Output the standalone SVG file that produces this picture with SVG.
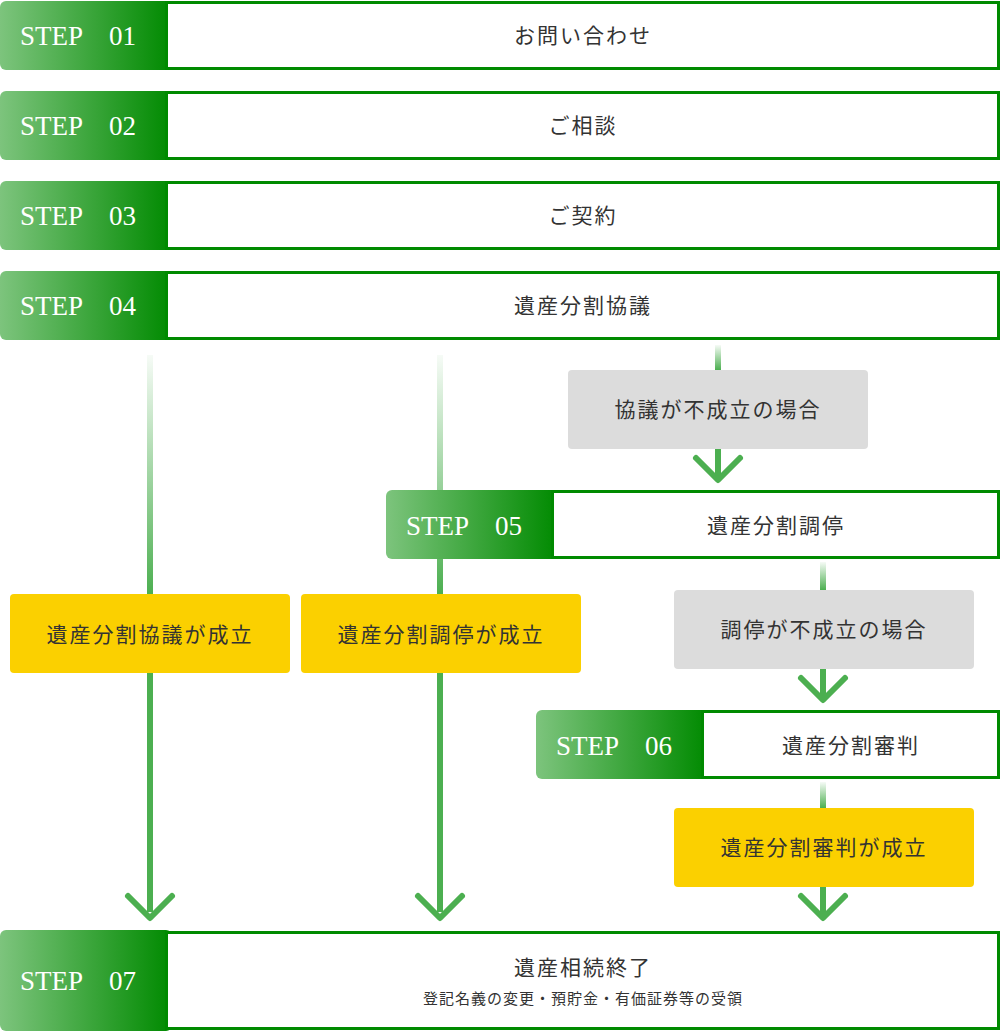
<svg xmlns="http://www.w3.org/2000/svg" width="1000" height="1031" viewBox="0 0 1000 1031">
<defs>
<linearGradient id="lg" x1="0" x2="1" y1="0" y2="0"><stop offset="0" stop-color="#7dc47d"/><stop offset="1" stop-color="#008a00"/></linearGradient>
<linearGradient id="vf" x1="0" x2="0" y1="0" y2="1"><stop offset="0" stop-color="#4caf50" stop-opacity="0.05"/><stop offset="1" stop-color="#4caf50"/></linearGradient>
<style>
.lab{fill:url(#lg)}
.box{fill:#fff;stroke:#008a00;stroke-width:3}
.st{font-family:"Liberation Serif",serif;font-size:27px;fill:#fff}
.t{font-family:"Liberation Serif","Noto Sans CJK JP",serif;font-size:21px;fill:#333;text-anchor:middle;letter-spacing:2px}
.y{fill:#fbd000}
.g{fill:#dcdcdc}
.ln{stroke:#4caf50;stroke-width:6;fill:none}
.fl{fill:url(#vf)}
.ar{stroke:#4caf50;stroke-width:6;fill:none;stroke-linecap:round;stroke-linejoin:round}
</style>
</defs>
<g id="connectors">
<rect class="fl" x="147" y="355" width="6" height="240"/>
<rect class="ln" x="147" y="673" width="0.1" height="0"/>
<line class="ln" x1="150" y1="673" x2="150" y2="912"/>
<polyline class="ar" points="128,896 150,918 172,896"/>
<rect class="fl" x="437" y="355" width="6" height="240"/>
<line class="ln" x1="440" y1="673" x2="440" y2="912"/>
<polyline class="ar" points="418,896 440,918 462,896"/>
<rect class="fl" x="715" y="345" width="6" height="25"/>
<line class="ln" x1="718" y1="449" x2="718" y2="476"/>
<polyline class="ar" points="696,458 718,480 740,458"/>
<rect class="fl" x="820" y="562" width="6" height="28"/>
<line class="ln" x1="823" y1="669" x2="823" y2="696"/>
<polyline class="ar" points="801,678 823,700 845,678"/>
<rect class="fl" x="820" y="782" width="6" height="26"/>
<line class="ln" x1="823" y1="887" x2="823" y2="914"/>
<polyline class="ar" points="801,896 823,918 845,896"/>
</g>
<g id="step01"><rect class="lab" x="0" y="1" width="172" height="69" rx="6"/><rect class="box" x="166.5" y="2.5" width="832" height="66"/><text class="st" x="20" y="45">STEP　01</text><text class="t" x="583" y="43">お問い合わせ</text></g>
<g id="step02"><rect class="lab" x="0" y="91" width="172" height="69" rx="6"/><rect class="box" x="166.5" y="92.5" width="832" height="66"/><text class="st" x="20" y="135">STEP　02</text><text class="t" x="583" y="133">ご相談</text></g>
<g id="step03"><rect class="lab" x="0" y="181" width="172" height="69" rx="6"/><rect class="box" x="166.5" y="182.5" width="832" height="66"/><text class="st" x="20" y="225">STEP　03</text><text class="t" x="583" y="223">ご契約</text></g>
<g id="step04"><rect class="lab" x="0" y="271" width="172" height="69" rx="6"/><rect class="box" x="166.5" y="272.5" width="832" height="66"/><text class="st" x="20" y="315">STEP　04</text><text class="t" x="583" y="313">遺産分割協議</text></g>
<g id="fail1"><rect class="g" x="568" y="370" width="300" height="79" rx="4"/><text class="t" x="718" y="417">協議が不成立の場合</text></g>
<g id="step05"><rect class="lab" x="386" y="490" width="172" height="69" rx="6"/><rect class="box" x="552.5" y="491.5" width="446" height="66"/><text class="st" x="406" y="535">STEP　05</text><text class="t" x="776" y="533">遺産分割調停</text></g>
<g id="ok1"><rect class="y" x="10" y="594" width="280" height="79" rx="4"/><text class="t" x="150" y="642">遺産分割協議が成立</text></g>
<g id="ok2"><rect class="y" x="301" y="594" width="280" height="79" rx="4"/><text class="t" x="441" y="642">遺産分割調停が成立</text></g>
<g id="fail2"><rect class="g" x="674" y="590" width="300" height="79" rx="4"/><text class="t" x="824" y="637">調停が不成立の場合</text></g>
<g id="step06"><rect class="lab" x="536" y="710" width="172" height="69" rx="6"/><rect class="box" x="702.5" y="711.5" width="296" height="66"/><text class="st" x="556" y="755">STEP　06</text><text class="t" x="851" y="753">遺産分割審判</text></g>
<g id="ok3"><rect class="y" x="674" y="808" width="300" height="79" rx="4"/><text class="t" x="824" y="855">遺産分割審判が成立</text></g>
<g id="step07"><rect class="lab" x="0" y="930" width="172" height="101" rx="6"/><rect class="box" x="166.5" y="932.5" width="832" height="96"/><text class="st" x="20" y="990">STEP　07</text><text class="t" x="583" y="975">遺産相続終了</text><text class="t" x="583" y="1004" style="font-size:15px;letter-spacing:1px">登記名義の変更・預貯金・有価証券等の受領</text></g>
</svg>
